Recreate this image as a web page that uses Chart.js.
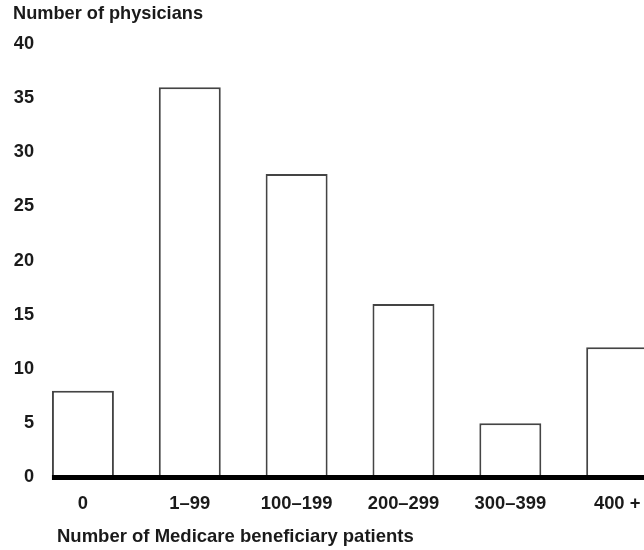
<!DOCTYPE html>
<html>
<head>
<meta charset="utf-8">
<script src="https://cdn.jsdelivr.net/npm/chart.js@4/dist/chart.umd.min.js"></script>
<style>
  html, body { margin: 0; padding: 0; background: #fff; overflow: hidden; }
  #wrap { position: relative; width: 700px; height: 550px; }
</style>
</head>
<body>
<div id="wrap"><canvas id="c"></canvas></div>
<script>
const categories = ["0", "1\u201399", "100\u2013199", "200\u2013299", "300\u2013399", "400 +"];
const physicians = [8, 36, 28, 16, 5, 12];
const yMin = 0;
const yMax = 40;
const yStep = 5;
const yTitle = "Number of physicians";
const xTitle = "Number of Medicare beneficiary patients";

const FONT = "'Liberation Sans', Arial, Helvetica, sans-serif";
const TEXT = "#1a1a1a";

const baselinePlugin = {
  id: "baseline",
  afterDatasetsDraw(chart) {
    const ctx = chart.ctx;
    const meta = chart.getDatasetMeta(0);
    const first = meta.data[0];
    const y = chart.scales.y.getPixelForValue(0);
    const x0 = first.x - first.width / 2;
    ctx.save();
    ctx.strokeStyle = "#000";
    ctx.lineWidth = 5;
    ctx.beginPath();
    ctx.moveTo(x0, y);
    ctx.lineTo(chart.chartArea.right + 40, y);
    ctx.stroke();
    ctx.restore();
  },
  afterDraw(chart) {
    const ctx = chart.ctx;
    ctx.save();
    ctx.font = "bold 18.5px " + FONT;
    ctx.fillStyle = TEXT;
    ctx.textAlign = "left";
    ctx.textBaseline = "alphabetic";
    ctx.fillText(xTitle, 57, 541.5);
    ctx.restore();
  }
};

new Chart(document.getElementById("c"), {
  type: "bar",
  data: {
    labels: categories,
    datasets: [{
      data: physicians,
      backgroundColor: "#ffffff",
      borderColor: "#444444",
      borderWidth: 2,
      barPercentage: 0.58,
      categoryPercentage: 1.0
    }]
  },
  options: {
    responsive: true,
    maintainAspectRatio: false,
    animation: false,
    layout: { padding: { left: 13, right: 29.4, top: 0, bottom: 19.3 } },
    plugins: {
      legend: { display: false },
      tooltip: { enabled: false },
      title: {
        display: true,
        text: yTitle,
        align: "start",
        color: TEXT,
        font: { family: FONT, size: 18.2, weight: "bold" },
        padding: { top: 3, bottom: 19 }
      }
    },
    scales: {
      x: {
        grid: { display: false, drawTicks: false },
        border: { display: false },
        ticks: {
          color: TEXT,
          font: { family: FONT, size: 18.4, weight: "bold" },
          padding: 15.6,
          maxRotation: 0,
          autoSkip: false
        }
      },
      y: {
        min: yMin,
        max: yMax,
        grid: { display: false, drawTicks: false },
        border: { display: false },
        afterFit(scale) {
          scale.width = 16.5;
          scale._computeLabelArea = () => undefined;
        },
        ticks: {
          stepSize: yStep,
          color: TEXT,
          padding: -4.5,
          font: { family: FONT, size: 18.2, weight: "bold" }
        }
      }
    }
  },
  plugins: [baselinePlugin]
});
</script>
</body>
</html>
